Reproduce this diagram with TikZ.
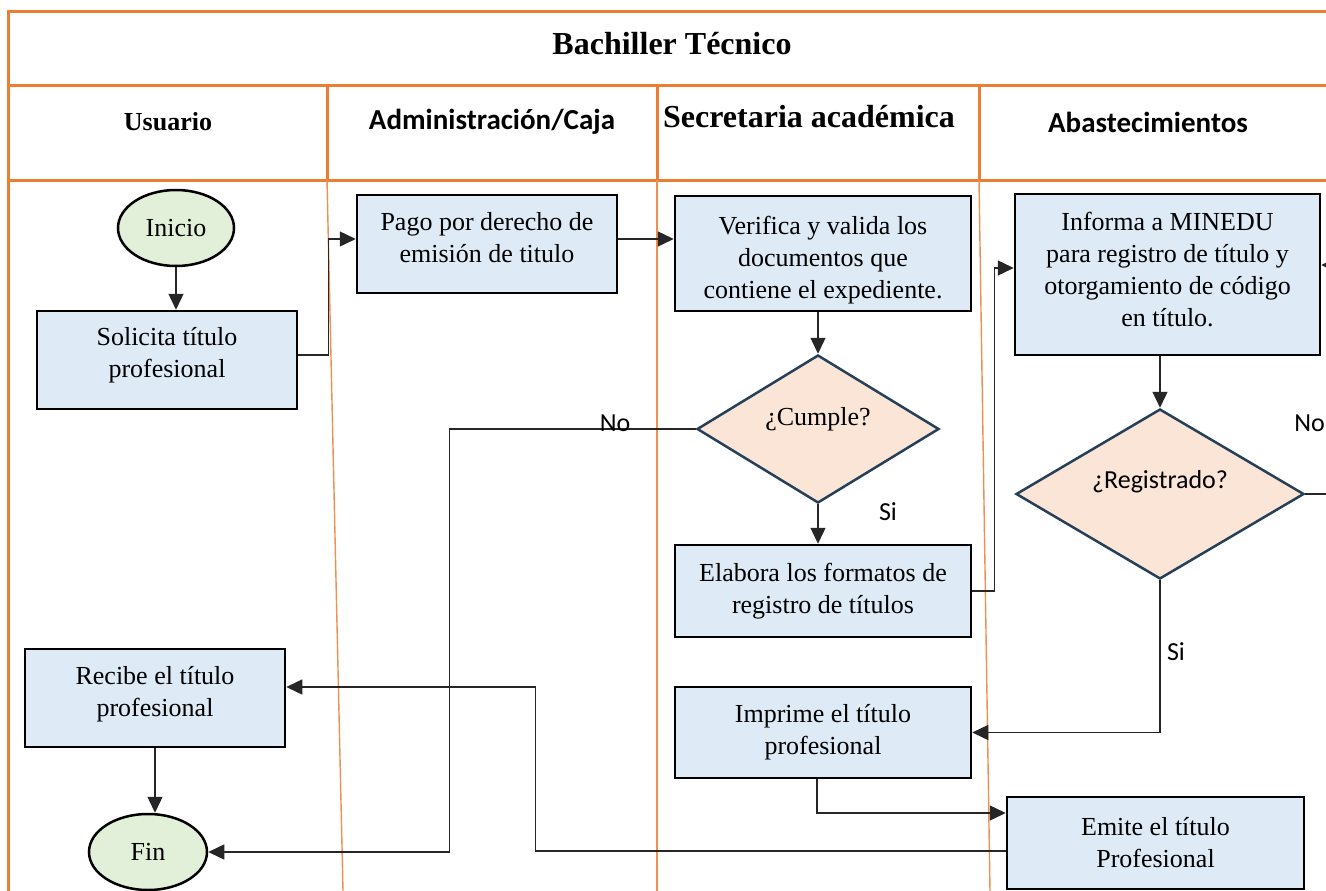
\documentclass[tikz,border=0pt]{standalone}
\usepackage{fontspec}
\setmainfont{Liberation Serif}
\newfontfamily\calibri{Carlito}
\usetikzlibrary{shapes.geometric,arrows.meta}
\definecolor{laneorange}{HTML}{ED7D31}
\definecolor{boxblue}{HTML}{DEEAF6}
\definecolor{termgreen}{HTML}{E2F0D9}
\definecolor{decpeach}{HTML}{FBE5D6}
\definecolor{decline}{RGB}{38,64,89}
% shift a block of centred lines vertically while keeping its size
\newcommand{\lowered}[2]{\raisebox{#1}[\height][\depth]{\begin{tabular}{@{}c@{}}#2\end{tabular}}}
\newcommand{\shifted}[2]{\raisebox{#1}[\height][\depth]{#2}}
\tikzset{
  frame/.style={draw=laneorange,line width=3pt},
  lane/.style={draw=laneorange!85,line width=1.4pt},
  procbox/.style={draw=black,fill=boxblue,line width=2.5pt,rectangle,inner sep=0pt,align=center,
    font=\fontsize{26}{32}\selectfont},
  term/.style={draw=black,fill=termgreen,line width=2.5pt,ellipse,inner sep=0pt,
    font=\fontsize{26}{32}\selectfont},
  decision/.style={draw=decline,fill=decpeach,line width=2.5pt,diamond,inner sep=0pt},
  arr/.style={draw=black!85,line width=1.4pt,-{Triangle[length=16pt,width=15pt]}},
  flow/.style={draw=black!85,line width=1.4pt},
  lbl/.style={font=\calibri\fontsize{26}{30}\selectfont,inner sep=0pt},
  headserif/.style={font=\bfseries\fontsize{26}{30}\selectfont,inner sep=0pt},
  headsans/.style={font=\calibri\bfseries\fontsize{29}{33}\selectfont,inner sep=0pt}
}
\begin{document}
\begin{tikzpicture}[x=1pt,y=-1pt]
\useasboundingbox (0,0) rectangle (1326,891);
\clip (0,0) rectangle (1326,891);

% pool frame and lane dividers
\draw[frame] (8,891) -- (8,12) -- (1340,12);
\draw[frame] (8,86) -- (1340,86);
\draw[frame] (8,180) -- (1340,180);
\draw[frame] (327,86) -- (327,180);
\draw[frame] (657,86) -- (657,180);
\draw[frame] (979,86) -- (979,180);
\draw[lane] (327,180) -- (343,891);
\draw[lane] (657,180) -- (657,891);
\draw[lane] (979,180) -- (990,891);

% headers
\node[font=\bfseries\fontsize{32}{36}\selectfont,inner sep=0pt] (title) at (672,44) {Bachiller Técnico};
\node[headserif] (hUsu) at (168,122) {Usuario};
\node[headsans] (hAdm) at (492,122) {Administración/Caja};
\node[font=\bfseries\fontsize{32}{36}\selectfont,inner sep=0pt] (hSec) at (809,117) {Secretaria académica};
\node[headsans] (hAba) at (1148,122) {Abastecimientos};

% Usuario lane
\node[term,minimum width=116,minimum height=76] (ini) at (176,228) {Inicio};
\node[procbox,minimum width=260,minimum height=98] (sol) at (167,360) {\lowered{5pt}{Solicita título\\profesional}};
\node[procbox,minimum width=260,minimum height=98] (rec) at (155,698) {\lowered{4pt}{Recibe el título\\profesional}};
\node[term,minimum width=118,minimum height=76] (fin) at (148,852) {Fin};

% Administración/Caja lane
\node[procbox,minimum width=260,minimum height=98] (pago) at (487,244) {\lowered{4pt}{Pago por derecho de\\emisión de titulo}};

% Secretaria académica lane
\node[procbox,minimum width=296,minimum height=115] (ver) at (823,253.5) {\lowered{-7pt}{Verifica y valida los\\documentos que\\contiene el expediente.}};
\node[decision,minimum width=242,minimum height=148,font=\fontsize{26}{30}\selectfont] (cum) at (818,429) {\shifted{10pt}{¿Cumple?}};
\node[procbox,minimum width=296,minimum height=92] (ela) at (823,591) {Elabora los formatos de\\registro de títulos};
\node[procbox,minimum width=296,minimum height=91] (imp) at (823,732.5) {Imprime el título\\profesional};

% Abastecimientos lane
\node[procbox,minimum width=305,minimum height=161] (inf) at (1167.5,274.5) {\lowered{2.5pt}{Informa a MINEDU\\para registro de título y\\otorgamiento de código\\en título.}};
\node[decision,minimum width=288,minimum height=170,font=\calibri\fontsize{26}{30}\selectfont] (reg) at (1160,494) {\shifted{12pt}{¿Registrado?}};
\node[procbox,minimum width=297,minimum height=92] (emi) at (1155.5,843) {Emite el título\\Profesional};

% connectors
\draw[arr] (ini.south) -- (ini.south |- sol.north);
\draw[arr] ([yshift=5]sol.east) -- ++(30,0) |- ([yshift=5]pago.west);
\draw[arr] ([yshift=5]pago.east) -- ([yshift=5]pago.east -| ver.west);
\draw[arr] (ver.south -| cum.north) -- (cum.north);
\draw[arr] (cum.south) -- (cum.south |- ela.north);
\draw[arr] (cum.west) -- ++(-246,0) |- (fin.east);
\draw[arr] (ela.east) -- ++(22,0) |- ([yshift=6.5]inf.west);
\draw[arr] (inf.south -| reg.north) -- (reg.north);
\draw[arr] (reg.south) |- (imp.east);
\coordinate (noEnd) at (1340,494);
\draw[flow] (reg.east) -- (noEnd);
\coordinate (backIn) at (1345,265);
\draw[arr] (backIn) -- (backIn -| inf.east);
\draw[arr] ([xshift=-6]imp.south) |- ([yshift=30]emi.west);
\draw[arr] ([yshift=-8]emi.west) -- ++(-470,0) |- ([yshift=11]rec.east);
\draw[arr] (rec.south) -- (rec.south |- fin.north);

% branch labels
\node[lbl] (noA) at (615,423) {No};
\node[lbl] (siA) at (888,512) {Si};
\node[lbl] (siB) at (1176,652) {Si};
\node[lbl,anchor=east] (noB) at (1325,423) {No};
\end{tikzpicture}
\end{document}
